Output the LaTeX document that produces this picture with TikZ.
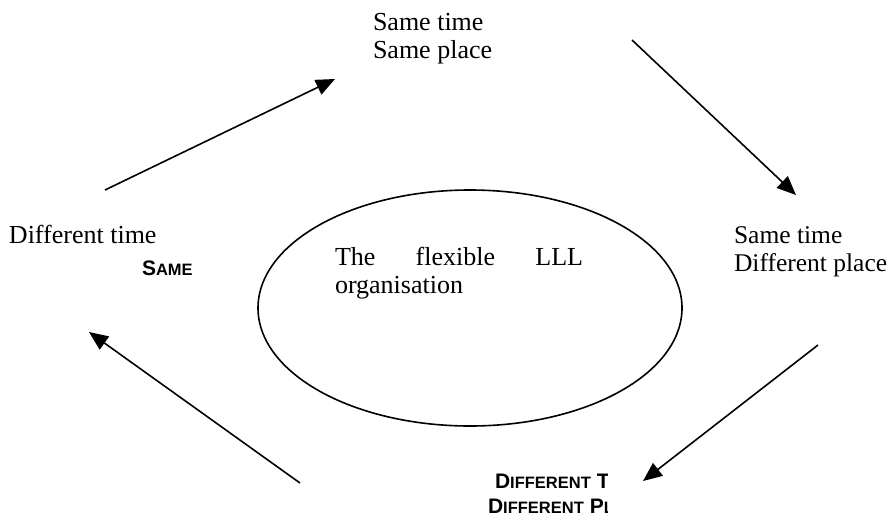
\documentclass[tikz,border=0pt]{standalone}
\usepackage{fontspec}
\setmainfont{Liberation Serif}
\newfontfamily\capsfont{Liberation Sans}
\usetikzlibrary{arrows.meta}
\newcommand{\bigC}[1]{{\fontsize{21}{25}\selectfont #1}}
\newcommand{\smallC}[1]{{\fontsize{16.5}{25}\selectfont #1}}
\tikzset{
  lbl/.style={anchor=base west, inner sep=0pt, outer sep=0pt, align=left,
    font=\fontsize{26}{28}\selectfont},
  capslbl/.style={anchor=base west, inner sep=0pt, outer sep=0pt,
    font=\capsfont\bfseries},
  flow/.style={line width=1.6pt, -{Triangle[length=19pt,width=16pt]}}
}
\begin{document}
\begin{tikzpicture}[x=1pt,y=-1pt]
\useasboundingbox (0,0) rectangle (890,520);
% ellipse
\draw[line width=1.6pt] (470,308) ellipse [x radius=212, y radius=118];
\node[lbl] (center) at (335,293) {\makebox[248pt][s]{The flexible LLL}\\organisation};
% labels
\node[lbl] (top) at (373,58) {Same time\\Same place};
\node[lbl, font=\fontsize{25.5}{28}\selectfont] (right) at (734,271) {Same time\\Different place};
\node[lbl] (left) at (9,243) {Different time};
\node[capslbl] (same) at (142,275) {\bigC{S}\smallC{AME}};
\begin{scope}
\clip (480,460) rectangle (607,520);
\node[capslbl] (bot1) at (495,488) {\bigC{D}\smallC{IFFERENT}\hspace{6pt}\bigC{T}\smallC{IME}};
\node[capslbl] (bot2) at (488,513) {\bigC{D}\smallC{IFFERENT}\hspace{6pt}\bigC{P}\smallC{LACE}};
\end{scope}
% arrow endpoints
\coordinate (a1s) at (105,190); \coordinate (a1e) at (335,79);
\coordinate (a2s) at (632,40);  \coordinate (a2e) at (796,195);
\coordinate (a3s) at (818,345); \coordinate (a3e) at (643,481);
\coordinate (a4s) at (300,483); \coordinate (a4e) at (89,332);
\draw[flow] (a1s) -- (a1e);
\draw[flow] (a2s) -- (a2e);
\draw[flow] (a3s) -- (a3e);
\draw[flow] (a4s) -- (a4e);
\end{tikzpicture}
\end{document}
